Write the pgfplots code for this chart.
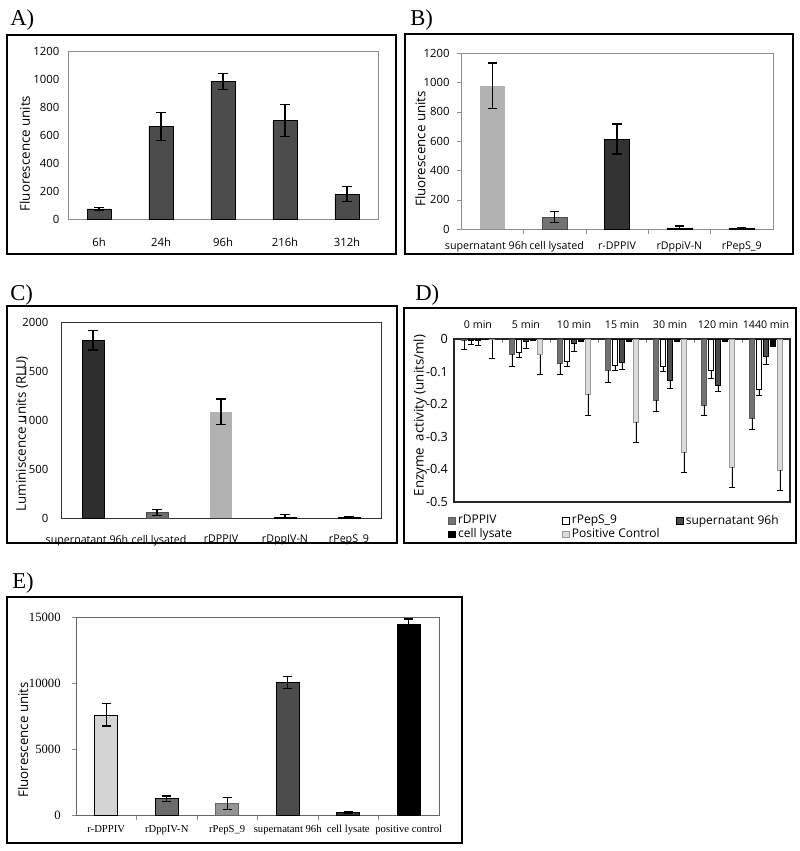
\documentclass[border=0pt]{standalone}
\usepackage{fontspec}
\setmainfont{Open Sans}
\newfontfamily\seriffont{Liberation Serif}
\usepackage{pgfplots}
\pgfplotsset{compat=1.18}
\definecolor{axgray}{gray}{0.55}
\newcommand\ftick{\fontsize{8.5}{10}\selectfont}
\newcommand\fxtick{\fontsize{8}{10}\selectfont}
\newcommand\flab{\fontsize{10}{12}\selectfont}
\newcommand\fpanel{\seriffont\fontsize{17}{20}\selectfont}
\pgfplotsset{
  ebar/.style={error bars/y dir=both, error bars/y explicit,
    error bars/error bar style={black,line width=0.9pt},
    error bars/error mark options={rotate=90,black,mark size=3.5pt,line width=0.9pt}},
  ebarm/.style={error bars/y dir=minus, error bars/y explicit,
    error bars/error bar style={black,line width=0.7pt},
    error bars/error mark options={rotate=90,black,mark size=2.5pt,line width=0.7pt}},
  basecat/.style={scale only axis, anchor=south west, ybar, bar shift=0pt,
    /pgf/number format/assume math mode=true, /pgf/number format/1000 sep={},
    scaled y ticks=false,
    axis line style={draw=axgray}, tick label style={font=\ftick}, label style={font=\flab},
    ylabel style={anchor=center}},
}
\begin{document}
\begin{tikzpicture}
\begin{scope}[x=0.75pt,y=-0.75pt]
\useasboundingbox (0,0) rectangle (800,851);
\draw[line width=1pt] (7,35) rectangle (396,254);
\draw[line width=1pt] (405,34) rectangle (793,254);
\draw[line width=1pt] (7,306) rectangle (397,543);
\draw[line width=1pt] (404,308) rectangle (796,543);
\draw[line width=1pt] (7,597) rectangle (462,843);
\node[anchor=base west,inner sep=0,font=\fpanel] at (10,25) {A)};
\node[anchor=base west,inner sep=0,font=\fpanel] at (410,25) {B)};
\node[anchor=base west,inner sep=0,font=\fpanel] at (10,300) {C)};
\node[anchor=base west,inner sep=0,font=\fpanel] at (415,300) {D)};
\node[anchor=base west,inner sep=0,font=\fpanel] at (12,588) {E)};
\end{scope}

% ---------- A ----------
\begin{axis}[basecat, at={(68*0.75pt,-219*0.75pt)}, width=232.5pt, height=126pt,
  bar width=18pt, xmin=-0.5, xmax=4.5, ymin=0, ymax=1200, ytick={0,200,...,1200},
  xtick={0,...,4}, xticklabels={6h,24h,96h,216h,312h}, tick style={draw=none},
  xticklabel style={yshift=-6pt}, yticklabel style={xshift=-3pt},
  ylabel={Fluorescence units}, ylabel style={at={(axis description cs:-0.139,0.39)}}]
\addplot[fill=black!70, draw=black, ebar] coordinates {(0,73) +- (0,8) (1,659) +- (0,100) (2,982) +- (0,58) (3,702) +- (0,114) (4,178) +- (0,53)};
\end{axis}

% ---------- B ----------
\begin{axis}[basecat, at={(461*0.75pt,-229*0.75pt)}, width=234pt, height=132pt,
  bar width=18.75pt, xmin=-0.5, xmax=4.5, ymin=0, ymax=1200, ytick={0,200,...,1200},
  xtick={0,...,4}, xticklabels={{\kern-9pt supernatant 96h},{cell lysated\kern-3pt},r-DPPIV,rDppiV-N,rPepS\_9},
  major x tick style={draw=none}, minor xtick={0.5,1.5,2.5,3.5}, minor tick length=4pt,
  tick align=outside, tick pos=left, major tick length=3pt, tick style={draw=axgray},
  xticklabel style={yshift=-3pt, font=\fxtick}, yticklabel style={xshift=-2pt},
  ylabel={Fluorescence units}, ylabel style={at={(axis description cs:-0.13,0.455)}}]
\addplot[fill=black!30, draw=none, ebar] coordinates {(0,977) +- (0,155)};
\addplot[fill=black!55, draw=black!70, ebar] coordinates {(1,82) +- (0,39)};
\addplot[fill=black!80, draw=black, ebar] coordinates {(2,614) +- (0,102)};
\addplot[fill=black!75, draw=black, ebar] coordinates {(3,6) +- (0,14)};
\addplot[fill=black!75, draw=black, ebar] coordinates {(4,5) +- (0,5)};
\end{axis}

% ---------- C ----------
\begin{axis}[basecat, at={(61*0.75pt,-518*0.75pt)}, width=240pt, height=147pt,
  bar width=16.5pt, xmin=-0.5, xmax=4.5, ymin=0, ymax=2000, ytick={0,500,...,2000},
  xtick={0,...,4}, xticklabels={{\kern-9pt supernatant 96h},{cell lysated\kern-3pt},rDPPIV,rDppIV-N,rPepS\_9},
  tick style={draw=none}, axis line style={draw=black!80},
  xticklabel style={yshift=-5pt, font=\fxtick}, yticklabel style={xshift=-6pt},
  ylabel={Luminiscence units (RLU)}, ylabel style={at={(axis description cs:-0.122,0.43)}}]
\addplot[fill=black!82, draw=black, ebar] coordinates {(0,1813) +- (0,98)};
\addplot[fill=black!57, draw=black!70, ebar] coordinates {(1,54) +- (0,30)};
\addplot[fill=black!30, draw=none, ebar] coordinates {(2,1085) +- (0,130)};
\addplot[fill=black!75, draw=black, ebar] coordinates {(3,10) +- (0,22)};
\addplot[fill=black!75, draw=black, ebar] coordinates {(4,8) +- (0,8)};
\end{axis}

% ---------- D ----------
\begin{axis}[scale only axis, anchor=south west, at={(454*0.75pt,-502*0.75pt)}, width=252pt, height=122.25pt,
  ybar=1.5pt, bar width=3.75pt, xmin=-0.5, xmax=6.5, ymin=-0.5, ymax=0,
  /pgf/number format/assume math mode=true,
  ytick={-0.5,-0.4,-0.3,-0.2,-0.1,0}, yticklabels={-0.5,-0.4,-0.3,-0.2,-0.1,0},
  yticklabel style={font=\fontsize{9.5}{11}\selectfont, xshift=-1pt},
  xtick={0,...,6}, xticklabels={0 min,5 min,10 min,15 min,30 min,120 min,1440 min},
  xticklabel pos=right, xtick pos=right, ytick pos=left,
  xticklabel style={font=\fontsize{8}{10}\selectfont, yshift=4pt},
  major x tick style={draw=none}, minor xtick={0.5,1.5,...,5.5}, minor tick length=3pt,
  tick align=inside, major y tick style={draw=none},
  axis line style={draw=black!85, line width=0.8pt},
  ylabel={Enzyme\ \ activity (units/ml)}, label style={font=\flab},
  ylabel style={at={(axis description cs:-0.101,0.53)}, anchor=center},
  legend columns=3, legend cell align=left,
  legend style={at={(axis description cs:-0.03,-0.045)}, anchor=north west, draw=none, fill=none,
    font=\fontsize{9}{10}\selectfont, row sep=-2pt},
  legend image code/.code={\draw[#1] (0pt,-2.5pt) rectangle (5pt,2.5pt);}]
\addplot[fill=black!55, draw=black!65, ebarm] coordinates {(0,-0.003) +- (0,0.03) (1,-0.046) +- (0,0.038) (2,-0.074) +- (0,0.036) (3,-0.0965) +- (0,0.037) (4,-0.187) +- (0,0.036) (5,-0.202) +- (0,0.034) (6,-0.243) +- (0,0.034)};
\addlegendentry{\makebox[76pt][l]{rDPPIV}}
\addplot[fill=white, draw=black, ebarm] coordinates {(0,-0.004) +- (0,0.012) (1,-0.041) +- (0,0.017) (2,-0.067) +- (0,0.017) (3,-0.082) +- (0,0.0155) (4,-0.084) +- (0,0.015) (5,-0.0965) +- (0,0.0235) (6,-0.154) +- (0,0.018)};
\addlegendentry{\makebox[76pt][l]{rPepS\_9}}
\addplot[fill=black!70, draw=black, ebarm] coordinates {(0,-0.004) +- (0,0.016) (1,-0.007) +- (0,0.021) (2,-0.012) +- (0,0.026) (3,-0.07) +- (0,0.022) (4,-0.127) +- (0,0.024) (5,-0.141) +- (0,0.02) (6,-0.054) +- (0,0.023)};
\addlegendentry{supernatant 96h}
\addplot[fill=black, draw=black, ebarm] coordinates {(0,-0.001) +- (0,0.001) (1,-0.003) +- (0,0.002) (2,-0.004) +- (0,0.002) (3,-0.005) +- (0,0.002) (4,-0.005) +- (0,0.002) (5,-0.005) +- (0,0.002) (6,-0.02) +- (0,0.003)};
\addlegendentry{\makebox[76pt][l]{cell lysate}}
\addplot[fill=black!14, draw=black!40, ebarm] coordinates {(0,-0.002) +- (0,0.057) (1,-0.048) +- (0,0.062) (2,-0.169) +- (0,0.064) (3,-0.254) +- (0,0.064) (4,-0.346) +- (0,0.064) (5,-0.392) +- (0,0.062) (6,-0.402) +- (0,0.064)};
\addlegendentry{\makebox[76pt][l]{Positive Control}}
\end{axis}

% ---------- E ----------
\begin{axis}[basecat, at={(76*0.75pt,-815*0.75pt)}, width=272.25pt, height=148.5pt,
  bar width=17.25pt, xmin=-0.5, xmax=5.5, ymin=0, ymax=15000,
  ytick={0,5000,10000,15000}, yticklabels={0,5000,10000,15000},
  yticklabel style={font=\seriffont\fontsize{9.5}{11}\selectfont, xshift=-5pt},
  xtick={0,...,5}, xticklabels={r-DPPIV,rDppIV-N,rPepS\_9,supernatant 96h,cell lysate,positive control},
  xticklabel style={font=\seriffont\fontsize{8}{10}\selectfont, yshift=-1pt},
  major x tick style={draw=none}, minor xtick={0.5,1.5,...,4.5}, minor tick length=4pt,
  tick align=outside, tick pos=left, major tick length=3pt, tick style={draw=axgray},
  axis line style={draw=black!60},
  ylabel={Fluorescence units}, ylabel style={at={(axis description cs:-0.146,0.38)}}]
\addplot[fill=black!17, draw=black, ebar] coordinates {(0,7589) +- (0,850)};
\addplot[fill=black!58, draw=black, ebar] coordinates {(1,1240) +- (0,200)};
\addplot[fill=black!42, draw=black!60, ebar] coordinates {(2,860) +- (0,450)};
\addplot[fill=black!70, draw=black, ebar] coordinates {(3,10042) +- (0,480)};
\addplot[fill=black!80, draw=black, ebar] coordinates {(4,180) +- (0,60)};
\addplot[fill=black, draw=black, ebar] coordinates {(5,14418) +- (0,430)};
\end{axis}
\end{tikzpicture}
\end{document}
